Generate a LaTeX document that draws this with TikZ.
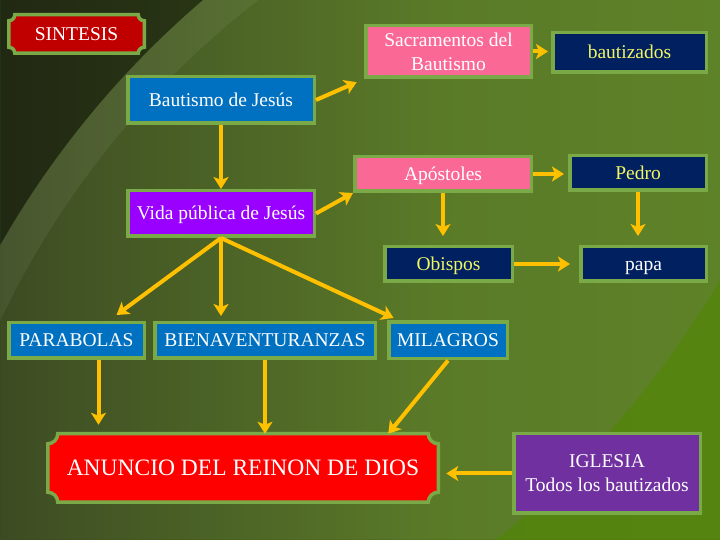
\documentclass[tikz,border=0pt]{standalone}
\usepackage{fontspec}
\setmainfont{Liberation Serif}
\usetikzlibrary{calc,arrows.meta}
\pgfdeclarelayer{bg}
\pgfdeclarelayer{plq}
\pgfsetlayers{bg,plq,main}
\definecolor{bordc}{RGB}{122,170,72}
\definecolor{sintred}{RGB}{192,0,0}
\definecolor{pinkc}{RGB}{250,105,150}
\definecolor{navyc}{RGB}{0,32,96}
\definecolor{bluec}{RGB}{0,112,192}
\definecolor{violc}{RGB}{153,0,255}
\definecolor{redc}{RGB}{255,0,0}
\definecolor{purpc}{RGB}{112,48,160}
\definecolor{arrc}{RGB}{255,192,0}
\definecolor{yelt}{RGB}{240,245,100}
\definecolor{bgA}{RGB}{16,16,16}
\definecolor{bgB}{RGB}{38,44,26}
\definecolor{bgC}{RGB}{64,80,36}
\definecolor{bgD}{RGB}{90,122,40}
\definecolor{bgE}{RGB}{100,140,40}
\definecolor{bgF}{RGB}{80,135,0}
\pgfdeclarehorizontalshading{bgshade}{100bp}{color(0bp)=(bgA); color(8bp)=(bgB); color(28bp)=(bgC); color(55bp)=(bgD); color(100bp)=(bgE)}
\newcommand\plaque[3]{%
  \draw[draw=bordc, line width=3.5pt, fill=#3]
    let \p1=(#1.north west), \p2=(#1.south east) in
    (\x1+#2,\y1) -- (\x2-#2,\y1)
    arc[start angle=180, end angle=270, radius=#2] -- (\x2,\y2+#2)
    arc[start angle=90, end angle=180, radius=#2] -- (\x1+#2,\y2)
    arc[start angle=0, end angle=90, radius=#2] -- (\x1,\y1-#2)
    arc[start angle=270, end angle=360, radius=#2] -- cycle;}
\begin{document}
\begin{tikzpicture}[x=1pt,y=1pt,
  box/.style={draw=bordc, line width=3.5pt, inner sep=0pt, align=center,
    text=white, font=\fontsize{19.5}{24}\selectfont},
  one/.style={text height=13pt, text depth=0pt},
  plq/.style={inner sep=0pt, outer sep=0pt, align=center, text=white},
  arr/.style={draw=arrc, line width=4pt, -{Stealth[length=12pt,width=15pt,inset=3pt]}}]
\useasboundingbox (0,0) rectangle (720,540);
\begin{pgfonlayer}{bg}
  \shade[shading=bgshade] (0,0) rectangle (720,540);
  \begin{scope}
    \clip (0,0) rectangle (720,540);
    \fill[black, opacity=.45, even odd rule] (0,0) rectangle (720,540) (800,-160) circle (920);
    \fill[white, opacity=.06, even odd rule] (800,-160) circle (920) (800,-160) circle (885);
    \fill[bgF, opacity=.6, even odd rule] (0,0) rectangle (720,540) (-100,740) circle (950);
  \end{scope}
\end{pgfonlayer}

% nodes
\node[plq, one, minimum width=135.5pt, minimum height=38.5pt, font=\fontsize{19.5}{22}\selectfont] (sint) at (76.5,506) {SINTESIS};
\node[box, fill=pinkc, minimum width=165.5pt, minimum height=51.5pt] (sacr) at (448.5,488.5) {Sacramentos del\\Bautismo};
\node[box, one, fill=navyc, text=yelt, minimum width=153.5pt, minimum height=39.5pt] (baut) at (629.5,487.5) {bautizados};
\node[box, one, fill=bluec, minimum width=186.5pt, minimum height=46.5pt] (bjes) at (221,440) {Bautismo de Jesús};
\node[box, one, fill=pinkc, minimum width=176.5pt, minimum height=34.5pt] (apos) at (443,366) {Apóstoles};
\node[box, one, fill=navyc, text=yelt, minimum width=136.5pt, minimum height=34.5pt] (pedro) at (638,367) {Pedro};
\node[box, one, fill=violc, minimum width=186.5pt, minimum height=45.5pt] (vida) at (221,326.5) {Vida pública de Jesús};
\node[box, one, fill=navyc, text=yelt, minimum width=127.5pt, minimum height=34.5pt] (obis) at (448.5,276) {Obispos};
\node[box, one, fill=navyc, minimum width=125.5pt, minimum height=34.5pt] (papa) at (643.5,276) {papa};
\node[box, one, fill=bluec, minimum width=135.5pt, minimum height=35.5pt] (para) at (76.5,199.5) {PARABOLAS};
\node[box, one, fill=bluec, minimum width=220.5pt, minimum height=35.5pt] (bien) at (265,199.5) {BIENAVENTURANZAS};
\node[box, one, fill=bluec, minimum width=118.5pt, minimum height=36.5pt] (mila) at (448,199.5) {MILAGROS};
\node[plq, minimum width=390.5pt, minimum height=68.5pt, text height=15.6pt, text depth=0pt, font=\fontsize{23.5}{26}\selectfont] (anun) at (243,72) {ANUNCIO DEL REINON DE DIOS};
\node[box, fill=purpc, minimum width=186.5pt, minimum height=79.5pt] (igle) at (607,66.5) {IGLESIA\\Todos los bautizados};

\begin{pgfonlayer}{plq}
  \plaque{sint}{6}{sintred}
  \plaque{anun}{10}{redc}
\end{pgfonlayer}

% connectors
\coordinate (ps) at ([xshift=22pt]para.south);
\draw[arr, shorten >=8pt] (bjes.east) -- (sacr.south west);
\draw[arr, shorten >=3pt] (sacr.east) -- (sacr.east -| baut.west);
\draw[arr] (bjes.south) -- (vida.north);
\draw[arr] (vida.east) -- (apos.south west);
\draw[arr, shorten >=4pt] (apos.east) -- (apos.east -| pedro.west);
\draw[arr, shorten >=9pt] (apos.south) -- (apos.south |- obis.north);
\draw[arr, shorten >=9pt] (pedro.south) -- (pedro.south |- papa.north);
\draw[arr, shorten >=9pt] (obis.east) -- (papa.west);
\draw[arr] (vida.south) -- ([xshift=40pt,yshift=6pt]para.north);
\draw[arr, shorten >=5pt] (vida.south) -- (vida.south |- bien.north);
\draw[arr, shorten >=6pt] (vida.south) -- ([xshift=12pt]mila.north west);
\draw[arr, shorten >=9pt] (ps) -- (ps |- anun.north);
\draw[arr] (bien.south) -- (bien.south |- anun.north);
\draw[arr] (mila.south) -- ([xshift=-50pt]anun.north east);
\draw[arr, shorten >=8pt] (igle.west) -- (igle.west -| anun.east);
\end{tikzpicture}
\end{document}
